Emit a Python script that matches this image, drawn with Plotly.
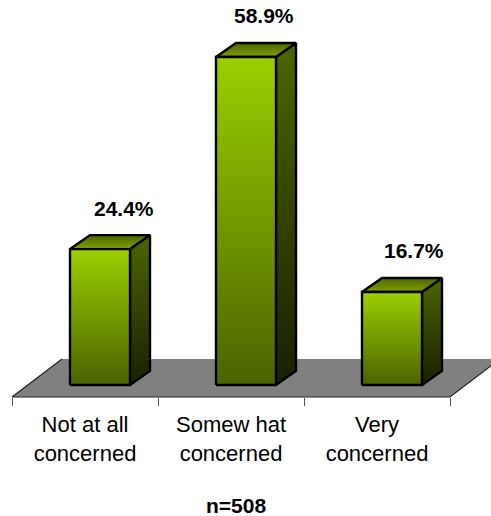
import plotly.graph_objects as go

categories = ["Not at all<br>concerned", "Somew hat<br>concerned", "Very<br>concerned"]
values = [24.4, 58.9, 16.7]
value_labels = ["24.4%", "58.9%", "16.7%"]
footnote = "n=508"

W, H = 491, 516
CAT_PX = 146.0      # width of one category, px
X0_PX = 12.0        # left of first category, px
Y0_PX = 385.0       # bar base, px
UNIT_PX = 5.57      # px per percent
FONT = "Liberation Sans, Arial, sans-serif"

ux = 1 / CAT_PX
uy = 1 / UNIT_PX
bar_left, bar_w = 58 * ux, 60 * ux
depth_x, depth_y = 20 * ux, 14 * uy
floor_front = -12 * uy
floor_dx, floor_dy = 50 * ux, 38 * uy
n = len(categories)

FRONT = [[0, "#4b6300"], [1, "#9ccf00"]]
SIDE = [[0, "#182000"], [1, "#4d6600"]]
TOP = [[0, "#7d9f00"], [1, "#4d6600"]]


def poly(xs, ys, scale=None, line=None, fill=None):
    kw = dict(x=xs, y=ys, mode="lines", fill="toself", hoverinfo="skip", showlegend=False,
              line=dict(color=line or "rgba(0,0,0,0)", width=2.4, shape="linear"))
    if scale:
        kw["fillgradient"] = dict(type="vertical", colorscale=scale)
    else:
        kw["fillcolor"] = fill
    return go.Scatter(**kw)


fig = go.Figure()
# floor
fig.add_trace(poly([0, n, n + floor_dx, floor_dx, 0],
                   [floor_front, floor_front, floor_front + floor_dy, floor_front + floor_dy, floor_front],
                   fill="#808080"))
fig.add_trace(go.Scatter(x=[floor_dx, 0, n, n + floor_dx],
                         y=[floor_front + floor_dy, floor_front, floor_front, floor_front + floor_dy],
                         mode="lines", line=dict(color="#222222", width=1.2),
                         hoverinfo="skip", showlegend=False))

label_dx = [39, 33, 37]
for i, v in enumerate(values):
    l = i + bar_left
    r = l + bar_w
    fig.add_trace(poly([r, r + depth_x, r + depth_x, r, r], [0, depth_y, v + depth_y, v, 0], SIDE, "#000000"))
    fig.add_trace(poly([l, r, r + depth_x, l + depth_x, l], [v, v, v + depth_y, v + depth_y, v], TOP, "#000000"))
    fig.add_trace(poly([l, r, r, l, l], [0, 0, v, v, 0], FRONT, "#000000"))
    fig.add_annotation(x=i + 0.5, y=v, text="<b>%s</b>" % value_labels[i], showarrow=False,
                       xshift=label_dx[i], yshift=41, xanchor="center", yanchor="middle",
                       font=dict(family=FONT, size=21, color="#000000"))

fig.add_annotation(x=0.5, xref="x domain", y=11 / H, yref="paper", xshift=-10, text="<b>%s</b>" % footnote,
                   showarrow=False, xanchor="center", yanchor="middle",
                   font=dict(family=FONT, size=21, color="#000000"))

fig.update_layout(
    width=W, height=H, autosize=False,
    margin=dict(l=0, r=0, t=0, b=0),
    paper_bgcolor="#ffffff", plot_bgcolor="#ffffff",
    xaxis=dict(range=[-X0_PX / CAT_PX, (W - X0_PX) / CAT_PX], domain=[0, 1],
               anchor="free", position=1 - 397 / H, showgrid=False, zeroline=False, showline=False,
               tickmode="array", tickvals=[i + 0.5 for i in range(n)], ticktext=categories,
               ticks="", ticklen=0, tickfont=dict(family=FONT, size=22, color="#000000"),
               ticklabelstandoff=12,
               minor=dict(tickmode="array", tickvals=list(range(n + 1)), ticks="outside",
                          ticklen=8, tickcolor="#555555", tickwidth=1, showgrid=False)),
    yaxis=dict(range=[-(H - Y0_PX) / UNIT_PX, Y0_PX / UNIT_PX], domain=[0, 1], visible=False),
)
fig.write_html("out.html", config={"displayModeBar": False},
               post_script="document.body.style.margin='0';document.body.style.overflow='hidden';")
